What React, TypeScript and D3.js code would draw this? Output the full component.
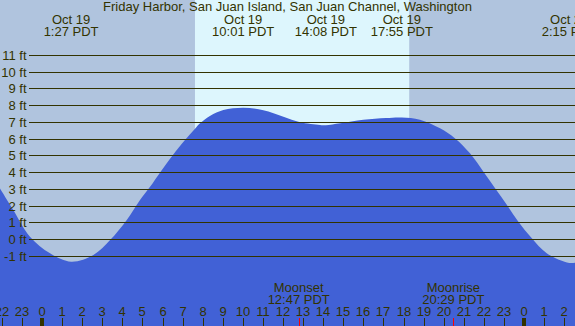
import * as d3 from 'd3';
import React from 'react';

// tide curve, hours from midnight Oct 19
const tideHours = [-2.1, -1.43, -0.6, 0.4, 1.45, 2.56, 3.39, 4.22, 4.88, 5.38, 5.88, 6.52, 7.12, 7.62, 7.87, 8.38, 9.03, 10.02, 11.02, 12.02, 12.85, 13.85, 14.13, 14.85, 16.0, 17.13, 17.92, 18.82, 19.82, 20.57, 21.31, 21.98, 22.56, 23.15, 23.72, 24.39, 25.13, 26.25, 26.6];
const tideFeet = [3.04, 1.74, 0.15, -0.84, -1.34, -0.94, -0.05, 1.15, 2.34, 3.13, 3.99, 5.03, 5.92, 6.6, 6.92, 7.37, 7.71, 7.85, 7.7, 7.31, 6.98, 6.82, 6.8, 6.92, 7.13, 7.24, 7.27, 7.14, 6.62, 6.02, 5.13, 4.03, 3.04, 2.04, 1.04, 0.05, -0.84, -1.42, -1.39];

// high / low labels at the top
const eventDates = ['Oct 19', 'Oct 19', 'Oct 19', 'Oct 19', 'Oct 20'];
const eventTimes = ['1:27', '10:01', '14:08', '17:55', '2:15'];
const eventDayOffset = [0, 0, 0, 0, 1];

const moonNames = ['Moonset', 'Moonrise'];
const moonTimes = ['12:47', '20:29'];

const sunrise = '7:37';
const sunset = '18:17';

const feetTicks = [-1, 0, 1, 2, 3, 4, 5, 6, 7, 8, 9, 10, 11];
const hourTicks = d3.range(-2, 27);

const title = 'Friday Harbor, San Juan Island, San Juan Channel, Washington';

const W = 575;
const H = 326;
const ink = '#333300';
const font = '"Liberation Sans", Arial, sans-serif';

const toHours = (t: string) => {
    const [h, m] = t.split(':').map(Number);
    return h + m / 60;
};

export default function App() {
    const x = d3.scaleLinear().domain([0, 24]).range([42, 524]);
    const y = d3.scaleLinear().domain([0, 11]).range([239.2, 55]);

    const pts = tideHours.map((h, i) => [h, tideFeet[i]] as [number, number]);
    const area = d3.area<[number, number]>()
        .x(d => x(d[0]))
        .y0(H)
        .y1(d => y(d[1]))
        .curve(d3.curveCatmullRom.alpha(0.5));

    const dayX0 = x(toHours(sunrise));
    const dayX1 = x(toHours(sunset));

    return (
        <svg width={W} height={H} style={{position: 'absolute', left: 0, top: 0}}
            fontFamily={font} fontSize={13}>
            <rect x={0} y={0} width={W} height={H} fill="#b0c4de" />
            <rect x={dayX0} y={0} width={dayX1 - dayX0} height={H} fill="#ddf6fd" />
            <path d={area(pts) || ''} fill="#4161d6" />

            {/* gridlines + labels */}
            {feetTicks.map(f => {
                const yy = Math.round(y(f)) + 0.5;
                return (
                    <g key={f}>
                        <line x1={29} x2={W} y1={yy} y2={yy} stroke={ink} strokeWidth={1.2} />
                        <text x={26.5} y={yy} dy="0.35em" textAnchor="end" fill={ink}>{f} ft</text>
                    </g>
                );
            })}

            <text x={W / 2} y={11} textAnchor="middle" fill={ink}>{title}</text>

            {eventTimes.map((t, i) => {
                const xx = x(toHours(t) + 24 * eventDayOffset[i]);
                return (
                    <g key={i}>
                        <text x={xx} y={24} textAnchor="middle" fill={ink}>{eventDates[i]}</text>
                        <text x={xx} y={36} textAnchor="middle" fill={ink}>{t} PDT</text>
                    </g>
                );
            })}

            {/* hour axis */}
            {hourTicks.map(h => {
                const xx = Math.round(x(h));
                const midnight = h % 24 === 0;
                return (
                    <g key={h}>
                        <text x={xx} y={316} textAnchor="middle" fill={ink}>{((h % 24) + 24) % 24}</text>
                        {midnight
                            ? <rect x={xx - 2} y={318} width={4} height={8} fill={ink} />
                            : <line x1={xx + 0.5} x2={xx + 0.5} y1={318} y2={H} stroke={ink} />}
                    </g>
                );
            })}

            {moonTimes.map((t, i) => {
                const xx = x(toHours(t));
                return (
                    <g key={t}>
                        <line x1={Math.round(xx) + 0.5} x2={Math.round(xx) + 0.5} y1={318} y2={H} stroke="#ff0000" />
                        <text x={xx} y={291.7} textAnchor="middle" fill={ink}>{moonNames[i]}</text>
                        <text x={xx} y={303.5} textAnchor="middle" fill={ink}>{t} PDT</text>
                    </g>
                );
            })}
        </svg>
    );
}
